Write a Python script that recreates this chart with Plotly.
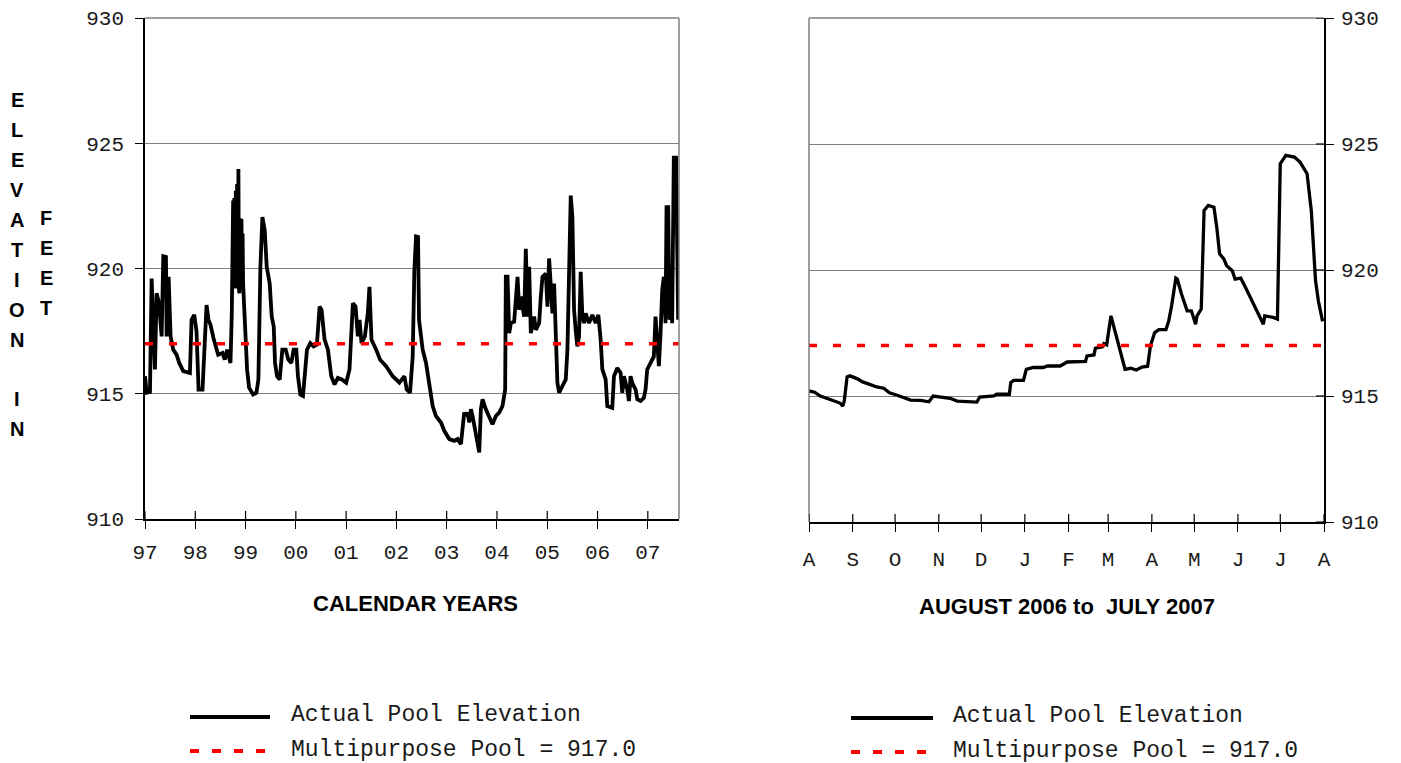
import plotly.graph_objects as go

W, H = 1401, 763

# Pool elevation record, January 1997 - July 2007 (decimal year, feet)
hist_year = [
    1997.000, 1997.033, 1997.099, 1997.132, 1997.198, 1997.231, 1997.278, 1997.331, 1997.364, 1997.417,
    1997.430, 1997.470, 1997.509, 1997.562, 1997.628, 1997.681, 1997.761, 1997.893, 1997.926, 1997.979,
    1998.025, 1998.065, 1998.144, 1998.190, 1998.224, 1998.263, 1998.303, 1998.369, 1998.455, 1998.541,
    1998.587, 1998.634, 1998.700,
    1998.726, 1998.740, 1998.753, 1998.763, 1998.775, 1998.786, 1998.796, 1998.806, 1998.818, 1998.832,
    1998.845, 1998.858, 1998.868, 1998.878, 1998.895, 1998.918, 1998.930, 1998.941, 1998.951, 1998.991,
    1999.030, 1999.070, 1999.150, 1999.216, 1999.255, 1999.295, 1999.335,
    1999.381, 1999.421, 1999.480, 1999.520, 1999.560, 1999.586, 1999.626, 1999.679, 1999.731, 1999.798,
    1999.851, 1999.910, 1999.956, 2000.009, 2000.042, 2000.089, 2000.142, 2000.181, 2000.221, 2000.287,
    2000.353, 2000.419, 2000.472, 2000.512, 2000.571, 2000.638, 2000.704, 2000.770, 2000.836, 2000.915,
    2001.001, 2001.067, 2001.134, 2001.187, 2001.233, 2001.266, 2001.306, 2001.372, 2001.431, 2001.464,
    2001.504, 2001.597, 2001.676, 2001.795, 2001.927, 2002.060, 2002.159, 2002.205, 2002.271, 2002.324,
    2002.357, 2002.390, 2002.430, 2002.450, 2002.489, 2002.522, 2002.589, 2002.655, 2002.688, 2002.721,
    2002.787, 2002.886, 2002.952, 2003.052, 2003.151, 2003.217, 2003.283, 2003.316, 2003.349, 2003.382,
    2003.415, 2003.448, 2003.481, 2003.515, 2003.548, 2003.594, 2003.647, 2003.680, 2003.713, 2003.779,
    2003.845, 2003.911, 2003.978, 2004.044, 2004.110, 2004.163, 2004.176, 2004.210, 2004.243, 2004.276,
    2004.342, 2004.375, 2004.409, 2004.442, 2004.475, 2004.541, 2004.574, 2004.607, 2004.640, 2004.673,
    2004.706, 2004.739, 2004.772, 2004.839, 2004.872, 2004.905, 2004.971, 2005.004, 2005.037, 2005.070,
    2005.103, 2005.136, 2005.169, 2005.202, 2005.235, 2005.302, 2005.368, 2005.401, 2005.434, 2005.467,
    2005.500, 2005.533, 2005.565, 2005.598, 2005.632, 2005.665, 2005.698, 2005.731, 2005.764, 2005.831,
    2005.897, 2005.963, 2006.016, 2006.062, 2006.095, 2006.161, 2006.194, 2006.293, 2006.327, 2006.393,
    2006.459, 2006.492, 2006.525, 2006.591, 2006.624, 2006.657, 2006.690, 2006.757, 2006.790, 2006.856,
    2006.922, 2006.955, 2006.988, 2007.054, 2007.120, 2007.153, 2007.187, 2007.220, 2007.253, 2007.286,
    2007.319, 2007.352, 2007.372, 2007.405, 2007.431, 2007.451, 2007.484, 2007.517, 2007.563, 2007.583,
    2007.603,
]
hist_elev = [
    915.70, 915.04, 915.07, 919.60, 915.97, 919.01, 918.61, 917.29, 920.49, 920.46,
    917.29, 919.67, 917.29, 916.76, 916.56, 916.23, 915.90, 915.83, 917.95, 918.15,
    917.49, 915.17, 915.17, 917.02, 918.54, 917.95, 917.75, 917.16, 916.56, 916.63,
    916.36, 916.76, 916.23,
    918.21, 922.60, 922.71, 919.30, 922.80, 922.78, 919.20, 923.10, 919.50, 923.37,
    919.60, 923.97, 919.20, 919.01, 921.90, 921.98, 919.60, 921.40, 919.40, 917.42,
    915.97, 915.24, 914.97, 915.04, 915.57, 920.07, 922.05,
    921.52, 920.07, 919.40, 918.08, 917.69, 916.23, 915.70, 915.57, 916.76, 916.76,
    916.36, 916.23, 916.76, 916.76, 915.70, 914.97, 914.91, 915.83, 916.76, 917.02,
    916.89, 916.96, 918.48, 918.35, 917.16, 916.76, 915.70, 915.37, 915.63, 915.57,
    915.44, 915.97, 918.61, 918.48, 917.29, 917.95, 917.02, 917.29, 918.21, 919.27,
    917.16, 916.76, 916.36, 916.10, 915.70, 915.44, 915.70, 915.17, 915.04, 916.49,
    919.93, 921.28, 921.26, 917.95, 917.29, 916.76, 916.23, 915.44, 914.91, 914.51,
    914.11, 913.85, 913.52, 913.19, 913.12, 913.19, 912.99, 913.85, 914.25, 914.11,
    914.25, 913.85, 914.38, 914.11, 913.78, 913.19, 912.66, 914.38, 914.78, 914.38,
    914.11, 913.78, 914.11, 914.25, 914.51, 915.17, 919.67, 919.67, 917.42, 917.82,
    917.88, 918.74, 919.67, 918.35, 918.88, 918.08, 920.79, 918.08, 920.07, 917.42,
    917.69, 918.08, 917.55, 917.82, 918.88, 919.67, 919.80, 918.48, 920.40, 919.14,
    918.21, 919.40, 917.82, 915.44, 915.04, 915.30, 915.57, 916.76, 920.60, 922.91,
    922.05, 918.35, 917.55, 916.89, 917.29, 919.87, 918.08, 917.82, 918.21, 917.82,
    918.15, 917.82, 918.15, 917.16, 915.97, 915.57, 914.51, 914.44, 915.70, 916.03,
    915.83, 915.04, 915.70, 915.17, 914.71, 915.70, 915.44, 915.17, 914.78, 914.71,
    914.84, 915.17, 915.97, 916.23, 916.49, 918.08, 917.16, 916.10, 917.42, 919.14,
    919.67, 917.82, 922.45, 922.45, 917.95, 919.40, 917.82, 924.43, 924.43, 919.80,
    917.95,
]

# Pool elevation, August 2006 - July 2007
recent_date = [
    "2006-08-01", "2006-08-05", "2006-08-09", "2006-08-13", "2006-08-18", "2006-08-23", "2006-08-25", "2006-08-26", "2006-08-28", "2006-08-30",
    "2006-09-04", "2006-09-08", "2006-09-13", "2006-09-18", "2006-09-23", "2006-09-27", "2006-10-02", "2006-10-07", "2006-10-12", "2006-10-19",
    "2006-10-25", "2006-10-28", "2006-11-02", "2006-11-09", "2006-11-14", "2006-11-21", "2006-11-28", "2006-11-30", "2006-12-10", "2006-12-12",
    "2006-12-21", "2006-12-22", "2006-12-24", "2006-12-31", "2007-01-02", "2007-01-07", "2007-01-14", "2007-01-17", "2007-01-26", "2007-01-31",
    "2007-02-13", "2007-02-14", "2007-02-19", "2007-02-20", "2007-02-25", "2007-02-26", "2007-02-28", "2007-03-03", "2007-03-06", "2007-03-08",
    "2007-03-10", "2007-03-13", "2007-03-17", "2007-03-21", "2007-03-25", "2007-03-29", "2007-03-31", "2007-04-03", "2007-04-06", "2007-04-11",
    "2007-04-13", "2007-04-15", "2007-04-18", "2007-04-19", "2007-04-22", "2007-04-24", "2007-04-26", "2007-04-29", "2007-05-02", "2007-05-03",
    "2007-05-06", "2007-05-08", "2007-05-11", "2007-05-15", "2007-05-17", "2007-05-19", "2007-05-22", "2007-05-24", "2007-05-28", "2007-05-30",
    "2007-06-03", "2007-06-07", "2007-06-11", "2007-06-15", "2007-06-18", "2007-06-19", "2007-06-20", "2007-06-26", "2007-06-29", "2007-07-01",
    "2007-07-05", "2007-07-11", "2007-07-15", "2007-07-20", "2007-07-23", "2007-07-26", "2007-07-28", "2007-07-30", "2007-07-31",
]
recent_elev = [
    915.20, 915.15, 915.00, 914.92, 914.83, 914.72, 914.60, 914.80, 915.76, 915.80,
    915.69, 915.56, 915.46, 915.36, 915.31, 915.13, 915.04, 914.93, 914.84, 914.83,
    914.77, 915.00, 914.96, 914.91, 914.80, 914.77, 914.76, 914.96, 915.00, 915.07,
    915.07, 915.53, 915.62, 915.62, 916.06, 916.13, 916.13, 916.19, 916.19, 916.35,
    916.37, 916.59, 916.63, 916.90, 916.95, 917.08, 917.03, 918.18, 917.56, 917.06,
    916.66, 916.06, 916.10, 916.03, 916.15, 916.18, 916.99, 917.52, 917.63, 917.63,
    917.99, 918.58, 919.68, 919.64, 919.05, 918.71, 918.38, 918.38, 917.85, 918.18,
    918.45, 922.36, 922.56, 922.49, 921.70, 920.64, 920.44, 920.17, 919.97, 919.64,
    919.68, 919.24, 918.78, 918.32, 918.01, 917.85, 918.18, 918.12, 918.05, 924.22,
    924.55, 924.48, 924.28, 923.82, 922.36, 919.58, 918.78, 918.12, 917.96,
]

POOL = 917.0

year_range = [1997, 2007.62]
year_ticks = [1997, 1998, 1999, 2000, 2001, 2002, 2003, 2004, 2005, 2006, 2007]
year_labels = ["97", "98", "99", "00", "01", "02", "03", "04", "05", "06", "07"]

month_ticks = ["2006-08-01", "2006-09-01", "2006-10-01", "2006-11-01", "2006-12-01", "2007-01-01",
               "2007-02-01", "2007-03-01", "2007-04-01", "2007-05-01", "2007-06-01", "2007-07-01",
               "2007-08-01"]
month_labels = ["A", "S", "O", "N", "D", "J", "F", "M", "A", "M", "J", "J", "A"]

elev_range = [910, 930]
elev_ticks = [910, 915, 920, 925, 930]

MONO = "Liberation Mono, Courier New, monospace"
SANS = "Liberation Sans, Arial, sans-serif"
INK = "#1a1a1a"
GRID = "#7f7f7f"
RED = "#ff0000"


def fx(px):
    """Pixel x -> paper fraction."""
    return px / W


def fy(py):
    """Pixel y (from top) -> paper fraction."""
    return 1 - py / H


# pixel frame of the two panels
LX0, LX1, LY0, LY1 = 145, 679, 18, 519
RX0, RX1, RY0, RY1 = 809, 1324, 18, 522

fig = go.Figure()

fig.add_trace(go.Scatter(x=hist_year, y=hist_elev, mode="lines", xaxis="x", yaxis="y",
                         line=dict(color="black", width=3.8), showlegend=False, hoverinfo="skip"))
fig.add_trace(go.Scatter(x=year_range, y=[POOL, POOL], mode="lines", xaxis="x", yaxis="y",
                         line=dict(color=RED, width=3.5, dash="8px,16px"), showlegend=False, hoverinfo="skip"))
fig.add_trace(go.Scatter(x=recent_date, y=recent_elev, mode="lines", xaxis="x2", yaxis="y2",
                         line=dict(color="black", width=3.3), showlegend=False, hoverinfo="skip"))
fig.add_trace(go.Scatter(x=[month_ticks[0], month_ticks[-1]], y=[POOL, POOL], mode="lines", xaxis="x2", yaxis="y2",
                         line=dict(color=RED, width=3.5, dash="8px,16px"), showlegend=False, hoverinfo="skip"))

axis_common = dict(showline=True, linecolor="black", linewidth=1.5, ticks="outside", ticklen=8,
                   tickwidth=1.2, tickcolor="black", zeroline=False, fixedrange=True,
                   automargin=False, tickfont=dict(family=MONO, size=21, color=INK))

fig.update_layout(
    template="none",
    width=W, height=H,
    margin=dict(l=0, r=0, t=0, b=0, pad=0, autoexpand=False),
    paper_bgcolor="white", plot_bgcolor="white",
    showlegend=False,
    xaxis=dict(domain=[fx(LX0), fx(LX1)], range=year_range, anchor="y",
               tickvals=year_ticks, ticktext=year_labels, showgrid=False,
               ticklabelstandoff=5, **axis_common),
    yaxis=dict(domain=[fy(LY1), fy(LY0)], range=elev_range, anchor="x",
               tickvals=elev_ticks, showgrid=True, gridcolor=GRID, gridwidth=1.3,
               ticklabelstandoff=7, **axis_common),
    xaxis2=dict(domain=[fx(RX0), fx(RX1)], type="date", range=[month_ticks[0], month_ticks[-1]],
                anchor="y2", tickvals=month_ticks, ticktext=month_labels, showgrid=False,
                ticklabelstandoff=9, **axis_common),
    yaxis2=dict(domain=[fy(RY1), fy(RY0)], range=elev_range, anchor="x2", side="right",
                tickvals=elev_ticks, showgrid=True, gridcolor=GRID, gridwidth=1.3,
                ticklabelstandoff=3, **axis_common),
)

shapes = []
# panel frames (top and far edges)
frame = dict(type="line", xref="paper", yref="paper", line=dict(color=GRID, width=1.5))
shapes.append(dict(frame, x0=fx(LX0), x1=fx(LX1), y0=fy(LY0), y1=fy(LY0)))
shapes.append(dict(frame, x0=fx(LX1), x1=fx(LX1), y0=fy(LY0), y1=fy(LY1)))
shapes.append(dict(frame, x0=fx(RX0), x1=fx(RX1), y0=fy(RY0), y1=fy(RY0)))
shapes.append(dict(frame, x0=fx(RX0), x1=fx(RX0), y0=fy(RY0), y1=fy(RY1)))

# inner half of the crossing tick marks
tick_line = dict(color="black", width=1.2)
for t in year_ticks:
    shapes.append(dict(type="line", xref="x", yref="paper", x0=t, x1=t,
                       y0=fy(LY1), y1=fy(LY1 - 8), line=tick_line))
for t in month_ticks:
    shapes.append(dict(type="line", xref="x2", yref="paper", x0=t, x1=t,
                       y0=fy(RY1), y1=fy(RY1 - 8), line=tick_line))
for v in elev_ticks:
    shapes.append(dict(type="line", xref="paper", yref="y2", x0=fx(RX1 - 8), x1=fx(RX1),
                       y0=v, y1=v, line=tick_line))

# legend samples
for lx0, lx1, ly_solid, ly_dash in [(190, 270, 717, 751), (851, 933, 718, 752)]:
    shapes.append(dict(type="line", xref="paper", yref="paper", x0=fx(lx0), x1=fx(lx1),
                       y0=fy(ly_solid), y1=fy(ly_solid), line=dict(color="black", width=4)))
    shapes.append(dict(type="line", xref="paper", yref="paper", x0=fx(lx0), x1=fx(lx1),
                       y0=fy(ly_dash), y1=fy(ly_dash), line=dict(color=RED, width=4, dash="9px,13px")))

fig.update_layout(shapes=shapes)

annotations = []


def text(x, y, s, font, xanchor="center"):
    annotations.append(dict(x=fx(x), y=fy(y), xref="paper", yref="paper", text=s, showarrow=False,
                            xanchor=xanchor, yanchor="middle", font=font))


title_font = dict(family=SANS, size=22, color="black")
letter_font = dict(family=SANS, size=20, color="black")
legend_font = dict(family=MONO, size=23, color=INK)

text(415, 603, "<b>CALENDAR YEARS</b>", title_font)
text(1067, 606, "<b>AUGUST 2006 to \u00a0JULY 2007</b>", title_font)

# stacked vertical axis label
for i, ch in enumerate("ELEVATION"):
    text(17, 100 + 30 * i, f"<b>{ch}</b>", letter_font)
for i, ch in enumerate("IN"):
    text(17, 399 + 30 * i, f"<b>{ch}</b>", letter_font)
for i, ch in enumerate("FEET"):
    text(46, 218 + 30 * i, f"<b>{ch}</b>", letter_font)

pool_label = f"Multipurpose Pool = {POOL:.1f}"
text(289, 715, "Actual Pool Elevation", legend_font, "left")
text(289, 750, pool_label, legend_font, "left")
text(951, 716, "Actual Pool Elevation", legend_font, "left")
text(951, 751, pool_label, legend_font, "left")

fig.update_layout(annotations=annotations)

fig.write_html("out.html", config={"displayModeBar": False})
